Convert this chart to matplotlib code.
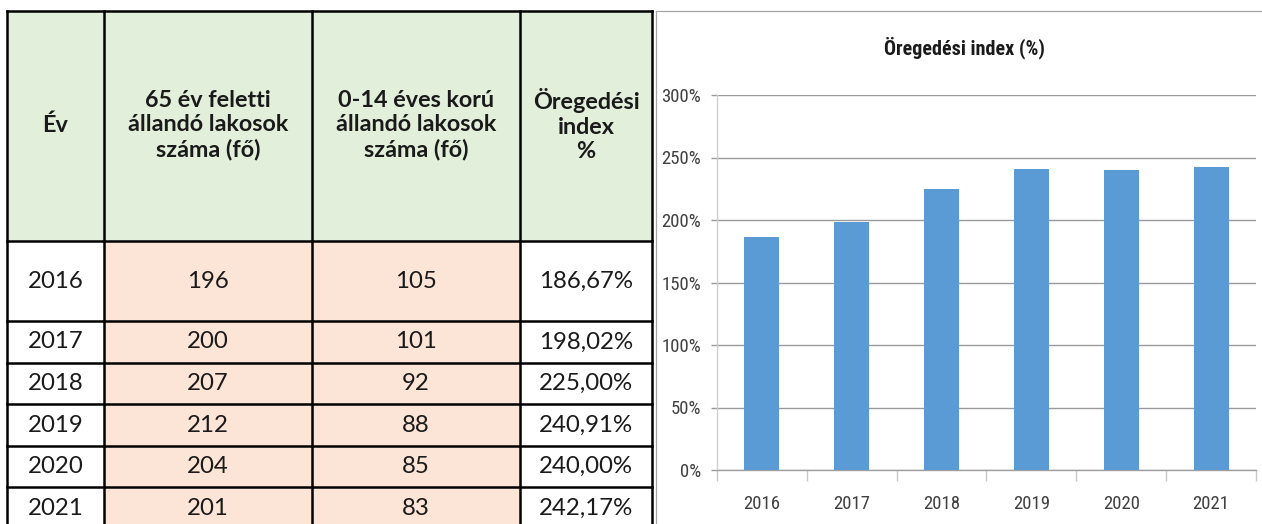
import matplotlib
matplotlib.use("Agg")
import matplotlib.pyplot as plt
from matplotlib.patches import Rectangle
from matplotlib.ticker import FuncFormatter, FixedLocator

# ---------------- data ----------------
years = ['2016', '2017', '2018', '2019', '2020', '2021']
over65 = [196, 200, 207, 212, 204, 201]
under14 = [105, 101, 92, 88, 85, 83]
index_pct = [186.67, 198.02, 225.00, 240.91, 240.00, 242.17]
headers = ['Év', '65 év feletti\nállandó lakosok\nszáma (fő)',
           '0-14 éves korú\nállandó lakosok\nszáma (fő)', 'Öregedési\nindex\n%']
chart_title = 'Öregedési index (%)'
y_ticks = [0, 50, 100, 150, 200, 250, 300]

W, H = 1262, 524
fig = plt.figure(figsize=(W / 100, H / 100), dpi=100)
fig.patch.set_facecolor('white')

TABLE_FONT = ['Lato', 'DejaVu Sans']
CHART_FONT = ['Roboto Condensed', 'Archivo Narrow', 'Roboto', 'DejaVu Sans']

# ---------------- table (pixel-space overlay axes) ----------------
tax = fig.add_axes([0, 0, 1, 1])
tax.set_xlim(0, W)
tax.set_ylim(H, 0)
tax.axis('off')

col_x = [7, 104, 312, 520, 652]
row_y = [11, 241, 321, 363, 404, 446, 487, 560]
green = '#E2EFDA'
pink = '#FCE4D6'

# header
for c in range(4):
    tax.add_patch(Rectangle((col_x[c], row_y[0]), col_x[c + 1] - col_x[c],
                            row_y[1] - row_y[0], facecolor=green, edgecolor='none'))
    tax.text((col_x[c] + col_x[c + 1]) / 2, (row_y[0] + row_y[1]) / 2 - 1, headers[c],
             ha='center', va='center', fontsize=16.8, fontweight='bold',
             family=TABLE_FONT, color='#1a1a1a', linespacing=1.2)

idx_labels = [f"{v:.2f}".replace('.', ',') + '%' for v in index_pct]
for r in range(len(years)):
    y0, y1 = row_y[r + 1], row_y[r + 2]
    cells = [years[r], str(over65[r]), str(under14[r]), idx_labels[r]]
    for c in range(4):
        fc = pink if c in (1, 2) else 'white'
        tax.add_patch(Rectangle((col_x[c], y0), col_x[c + 1] - col_x[c], y1 - y0,
                                facecolor=fc, edgecolor='none'))
        yc = (y0 + y1) / 2 if r < len(years) - 1 else (y0 + 524) / 2 + 3
        tax.text((col_x[c] + col_x[c + 1]) / 2, yc, cells[c], ha='center', va='center',
                 fontsize=17.3, family=TABLE_FONT, color='#1a1a1a')

# grid lines of the table
for x in col_x:
    tax.plot([x, x], [row_y[0], H + 5], color='black', lw=1.8, solid_capstyle='projecting')
for y in row_y[:-1]:
    tax.plot([col_x[0], col_x[-1]], [y, y], color='black', lw=1.8, solid_capstyle='projecting')

# chart frame
tax.plot([655.5, 655.5], [11, H + 5], color='#A6A6A6', lw=0.9)
tax.plot([655.5, W + 5], [11, 11], color='#A6A6A6', lw=0.9)

# ---------------- chart ----------------
left, right = 717, 1256
top, bottom = 95, 470
ax = fig.add_axes([left / W, 1 - bottom / H, (right - left) / W, (bottom - top) / H])
ax.set_facecolor('none')
x = range(len(years))
ax.bar(x, index_pct, width=0.39, color='#5B9BD5', zorder=3)
ax.set_xlim(-0.5, len(years) - 0.5)
ax.set_ylim(0, 300)
ax.yaxis.set_major_locator(FixedLocator(y_ticks))
ax.yaxis.set_major_formatter(FuncFormatter(lambda v, p: f"{int(v)}%"))
ax.grid(axis='y', color='#9A9A9A', lw=1.0, zorder=0)
ax.set_xticks(list(x))
ax.set_xticklabels(years)
ax.tick_params(axis='x', length=0, pad=18, labelsize=13.5, labelcolor='#404040')
ax.tick_params(axis='y', length=4.5, width=1.0, color='#9A9A9A', pad=7,
               labelsize=13.5, labelcolor='#404040')
for lab in ax.get_xticklabels() + ax.get_yticklabels():
    lab.set_family(CHART_FONT)
for s in ['top', 'right']:
    ax.spines[s].set_visible(False)
ax.spines['left'].set_color('#D0D0D0')
ax.spines['left'].set_linewidth(1.0)
ax.spines['bottom'].set_color('#A0A0A0')
ax.spines['bottom'].set_linewidth(1.0)
# category boundary tick marks
ax.set_xticks([i - 0.5 for i in range(len(years) + 1)], minor=True)
ax.tick_params(axis='x', which='minor', length=8, color='#C8C8C8', width=1.0)

fig.text(964 / W, 1 - 48 / H, chart_title, ha='center', va='center', fontsize=14.5,
         fontweight='bold', family=CHART_FONT, color='#1a1a1a')

fig.savefig('out.png', dpi=100)
